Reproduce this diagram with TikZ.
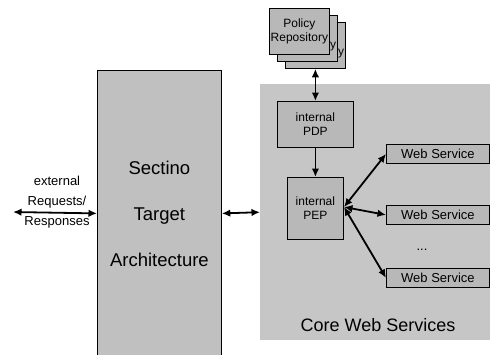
\documentclass[tikz,border=0pt]{standalone}
\usepackage{fontspec}
\setmainfont{Liberation Sans}
\usetikzlibrary{arrows.meta}
\definecolor{panelgray}{HTML}{C6C6C6}
\definecolor{boxgray}{HTML}{B8B8B8}
\definecolor{biggray}{HTML}{C0C0C0}
\tikzset{
  box/.style={draw=black, fill=boxgray, line width=0.8pt, inner sep=0pt, align=center, anchor=north west,
    font=\fontsize{12}{14}\selectfont},
  wsbox/.style={box, font=\fontsize{13}{15}\selectfont, minimum width=103pt, minimum height=19pt},
  arr/.style={{Latex[length=8.5pt,width=7.5pt]}-{Latex[length=8.5pt,width=7.5pt]}, line width=1.8pt},
  sarr/.style={-{Latex[length=8.5pt,width=7.5pt]}, line width=1.8pt},
  lbl/.style={align=center, inner sep=0pt},
}
\begin{document}
\begin{tikzpicture}[x=1pt,y=-1pt]
\useasboundingbox (0,0) rectangle (490,354);
% core web services panel
\node[fill=panelgray, inner sep=0pt, minimum width=230pt, minimum height=256pt, anchor=north west] (cws) at (260,84) {};
\node[lbl, font=\fontsize{18}{20}\selectfont] (cwsl) at (378,325) {Core Web Services};
% Sectino box
\node[draw=black, fill=biggray, line width=0.8pt, inner sep=0pt, minimum width=124pt, minimum height=286pt,
  anchor=north west, align=center, font=\fontsize{18.5}{46}\selectfont] (sta) at (97,70) {Sectino\\Target\\Architecture};
% policy repository stack
\node[box, minimum width=60pt, minimum height=46pt] (rep3) at (285,22) {Policy\\Repository};
\node[box, minimum width=60pt, minimum height=46pt] (rep2) at (277,15) {Policy\\Repository};
\node[box, minimum width=60pt, minimum height=46pt] (rep1) at (269,8) {Policy\\Repository};
% PDP, PEP
\node[box, minimum width=76pt, minimum height=46pt] (pdp) at (277,101) {internal\\PDP};
\node[box, minimum width=56pt, minimum height=62pt] (pep) at (287,177) {internal\\PEP};
% web services
\node[wsbox] (ws1) at (386,144) {Web Service};
\node[wsbox] (ws2) at (386,205) {Web Service};
\node[wsbox] (ws3) at (386,268) {Web Service};
\node[lbl, font=\fontsize{13}{15}\selectfont] (dots) at (422,250) {...};
% external
\node[lbl, font=\fontsize{13}{20}\selectfont] (extl) at (57,202) {external\\Requests/\\Responses};
\coordinate (ext) at (13,212);
\coordinate (hub) at (344,207);
% connectors
\draw[arr] (ext) -- (sta.west);
\draw[arr] (sta.east) -- (cws.west);
\draw[arr] (rep3.south) -- (pdp.north);
\draw[sarr] (pdp.south) -- (pep.north);
\draw[arr] (hub) -- (ws1.west);
\draw[arr] (hub) -- (ws2.west);
\draw[arr] (hub) -- (ws3.west);
\end{tikzpicture}
\end{document}
